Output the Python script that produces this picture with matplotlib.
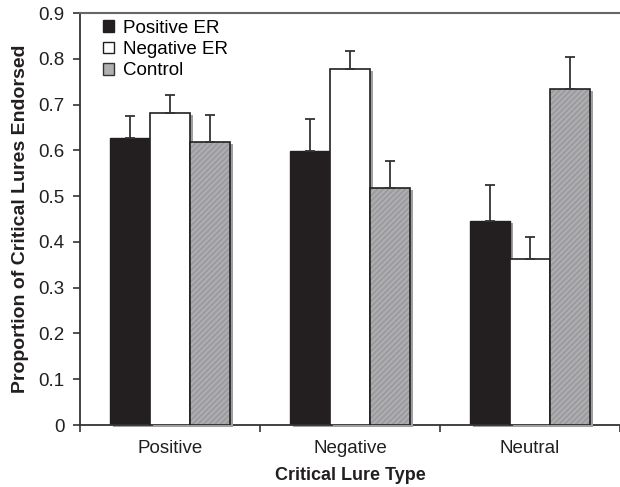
import matplotlib
matplotlib.use("Agg")
import matplotlib.pyplot as plt
import matplotlib.transforms as mtransforms
from matplotlib.patches import Patch
import numpy as np

plt.rcParams['font.family'] = ['Liberation Sans', 'DejaVu Sans']
plt.rcParams['hatch.linewidth'] = 1.5

categories = ["Positive", "Negative", "Neutral"]
series = ["Positive ER", "Negative ER", "Control"]
pos_er = [0.627, 0.599, 0.446]
neg_er = [0.682, 0.778, 0.362]
control = [0.618, 0.517, 0.734]
pos_err = [0.048, 0.069, 0.079]
neg_err = [0.039, 0.040, 0.049]
ctrl_err = [0.059, 0.060, 0.070]
yticks = [0, 0.1, 0.2, 0.3, 0.4, 0.5, 0.6, 0.7, 0.8, 0.9]

fig = plt.figure(figsize=(6.2, 4.87), dpi=100)
ax = fig.add_axes([80/620, 62/487, 1 - 80/620, 412/487])

x = np.arange(len(categories))
w = 0.224
values = [pos_er, neg_er, control]
errs = [pos_err, neg_err, ctrl_err]
offsets = [-w, 0, w]

shadow = ax.transData + mtransforms.ScaledTranslation(3/100, -2/100, fig.dpi_scale_trans)

for i, (vals, er, off) in enumerate(zip(values, errs, offsets)):
    xs = x + off
    ax.bar(xs, vals, w, color='#a0a0a0', linewidth=0, transform=shadow, zorder=1 + i * 3, clip_on=False)
    if i == 0:
        ax.bar(xs, vals, w, color='#231f20', edgecolor='#231f20', linewidth=1.0, zorder=2 + i * 3)
    elif i == 1:
        ax.bar(xs, vals, w, color='white', edgecolor='#231f20', linewidth=1.2, zorder=2 + i * 3)
    else:
        ax.bar(xs, vals, w, color='#b0b0b3', edgecolor='#9c9ca0', hatch='//////', linewidth=0, zorder=2 + i * 3)
        ax.bar(xs, vals, w, color='none', edgecolor='#231f20', linewidth=1.2, zorder=2.5 + i * 3)
    ax.errorbar(xs, vals, yerr=[np.zeros(len(er)), er], fmt='none', ecolor='#333333',
                elinewidth=1.3, capsize=3.5, capthick=1.3, zorder=2.6 + i * 3)

ax.set_xlim(-0.5, -0.5 + 540/183)
ax.set_ylim(0, 0.9)
ax.set_yticks(yticks)
ax.set_yticklabels(["0"] + [f"{t:.1f}" for t in yticks[1:]])
ax.set_xticks(x)
ax.set_xticklabels(categories)
ax.set_xticks([-0.5, 0.5, 1.5, 2.5], minor=True)
ax.tick_params(axis='x', which='major', length=0, pad=11, labelsize=13.5, colors='#231f20')
ax.tick_params(axis='x', which='minor', length=5, direction='out', color='#333333', width=1.2)
ax.tick_params(axis='y', length=5, direction='out', labelsize=13.5, color='#333333', width=1.2,
               labelcolor='#231f20', pad=6)

for s in ['left', 'bottom']:
    ax.spines[s].set_color('#333333')
    ax.spines[s].set_linewidth(1.3)
ax.spines['top'].set_color('#666666')
ax.spines['top'].set_linewidth(1.5)
ax.spines['right'].set_visible(False)

ax.set_ylabel("Proportion of Critical Lures Endorsed", fontsize=14, fontweight='bold', color='#231f20', labelpad=7)
ax.set_xlabel("Critical Lure Type", fontsize=13, fontweight='bold', color='#231f20', labelpad=7)

handles = [Patch(facecolor='#231f20', edgecolor='#231f20'),
           Patch(facecolor='white', edgecolor='#231f20'),
           Patch(facecolor='#b0b0b3', edgecolor='#333333')]
leg = ax.legend(handles, series, loc='upper left', bbox_to_anchor=(0.018, 1.015), frameon=False,
                fontsize=13.5, handlelength=0.6, handleheight=0.6, handletextpad=0.5,
                labelspacing=0.22, borderaxespad=0.3)

fig.savefig("out.png", dpi=100)
